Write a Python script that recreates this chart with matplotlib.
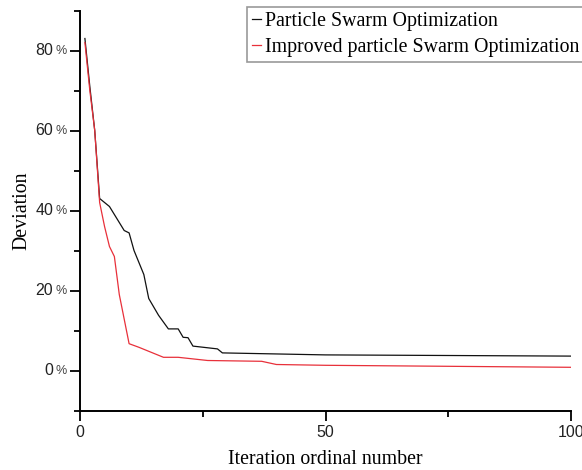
import numpy as np
import matplotlib.pyplot as plt
from matplotlib.ticker import MultipleLocator

# breakpoints (iteration, deviation %)
pso_x = [1, 2, 3, 4, 6, 9, 10, 11, 12, 13, 14, 16, 18, 20, 21, 22, 23, 28, 29, 50, 100]
pso_y = [83, 71, 60, 43, 41, 35, 34.4, 30, 27, 24, 18, 13.8, 10.4, 10.4, 8.3, 8.2, 6.1, 5.4, 4.4, 3.9, 3.6]

ipso_x = [1, 2, 3, 4, 5, 6, 7, 8, 10, 12, 14, 17, 20, 26, 37, 40, 50, 100]
ipso_y = [82, 70, 60, 42, 36, 31, 28.5, 19, 6.7, 5.8, 4.8, 3.3, 3.3, 2.5, 2.3, 1.5, 1.3, 0.8]

labels = ['Particle Swarm Optimization', 'Improved particle Swarm Optimization']
ytick_vals = [0, 20, 40, 60, 80]

fig = plt.figure(figsize=(5.82, 4.70), dpi=100)
ax = fig.add_axes([80/582, 1-410.5/470, 491/582, 400/470])

ax.plot(pso_x, pso_y, color='#111111', lw=0.9, label=labels[0])
ax.plot(ipso_x, ipso_y, color='#e8303a', lw=0.9, label=labels[1])

ax.set_xlim(0, 100)
ax.set_ylim(-10, 90)
ax.xaxis.set_major_locator(MultipleLocator(50))
ax.xaxis.set_minor_locator(MultipleLocator(25))
ax.yaxis.set_major_locator(MultipleLocator(20))
ax.yaxis.set_minor_locator(MultipleLocator(10))
ax.set_yticklabels([])

# y tick labels: number plus a smaller percent sign
for v in ytick_vals:
    ax.annotate(str(v), xy=(0, v), xycoords=('axes fraction', 'data'),
                xytext=(-27, 0), textcoords='offset pixels',
                ha='right', va='center', family='Liberation Sans',
                fontsize=11.5, color='#222222')
    ax.annotate('%', xy=(0, v), xycoords=('axes fraction', 'data'),
                xytext=(-25, -1), textcoords='offset pixels',
                ha='left', va='center', family='Liberation Sans',
                fontsize=9, color='#444444')

for s in ['top', 'right']:
    ax.spines[s].set_visible(False)
for s in ['left', 'bottom']:
    ax.spines[s].set_linewidth(1.4)

ax.tick_params(which='major', length=7, width=1.3, labelsize=11.5, colors='black')
ax.tick_params(which='minor', length=4, width=1.3)
for lab in ax.get_xticklabels():
    lab.set_family('Liberation Sans')
    lab.set_color('#222222')

ax.set_xlabel('Iteration ordinal number', family='Liberation Serif', fontsize=14.3)
ax.xaxis.set_label_coords(0.5, -0.1)
ax.set_ylabel('Deviation', family='Liberation Serif', fontsize=14.3)
ax.yaxis.set_label_coords(-0.098, 0.5)

leg = fig.legend(loc='upper left', bbox_to_anchor=(247/582, 1-7/470),
                 prop={'family': 'Liberation Serif', 'size': 14.3},
                 handlelength=0.45, handletextpad=0.2, borderpad=0.25,
                 labelspacing=0.35, borderaxespad=0, fancybox=False, framealpha=1)
leg.get_frame().set_edgecolor('#999999')
leg.get_frame().set_linewidth(1.2)

fig.savefig('out.png', dpi=100)
